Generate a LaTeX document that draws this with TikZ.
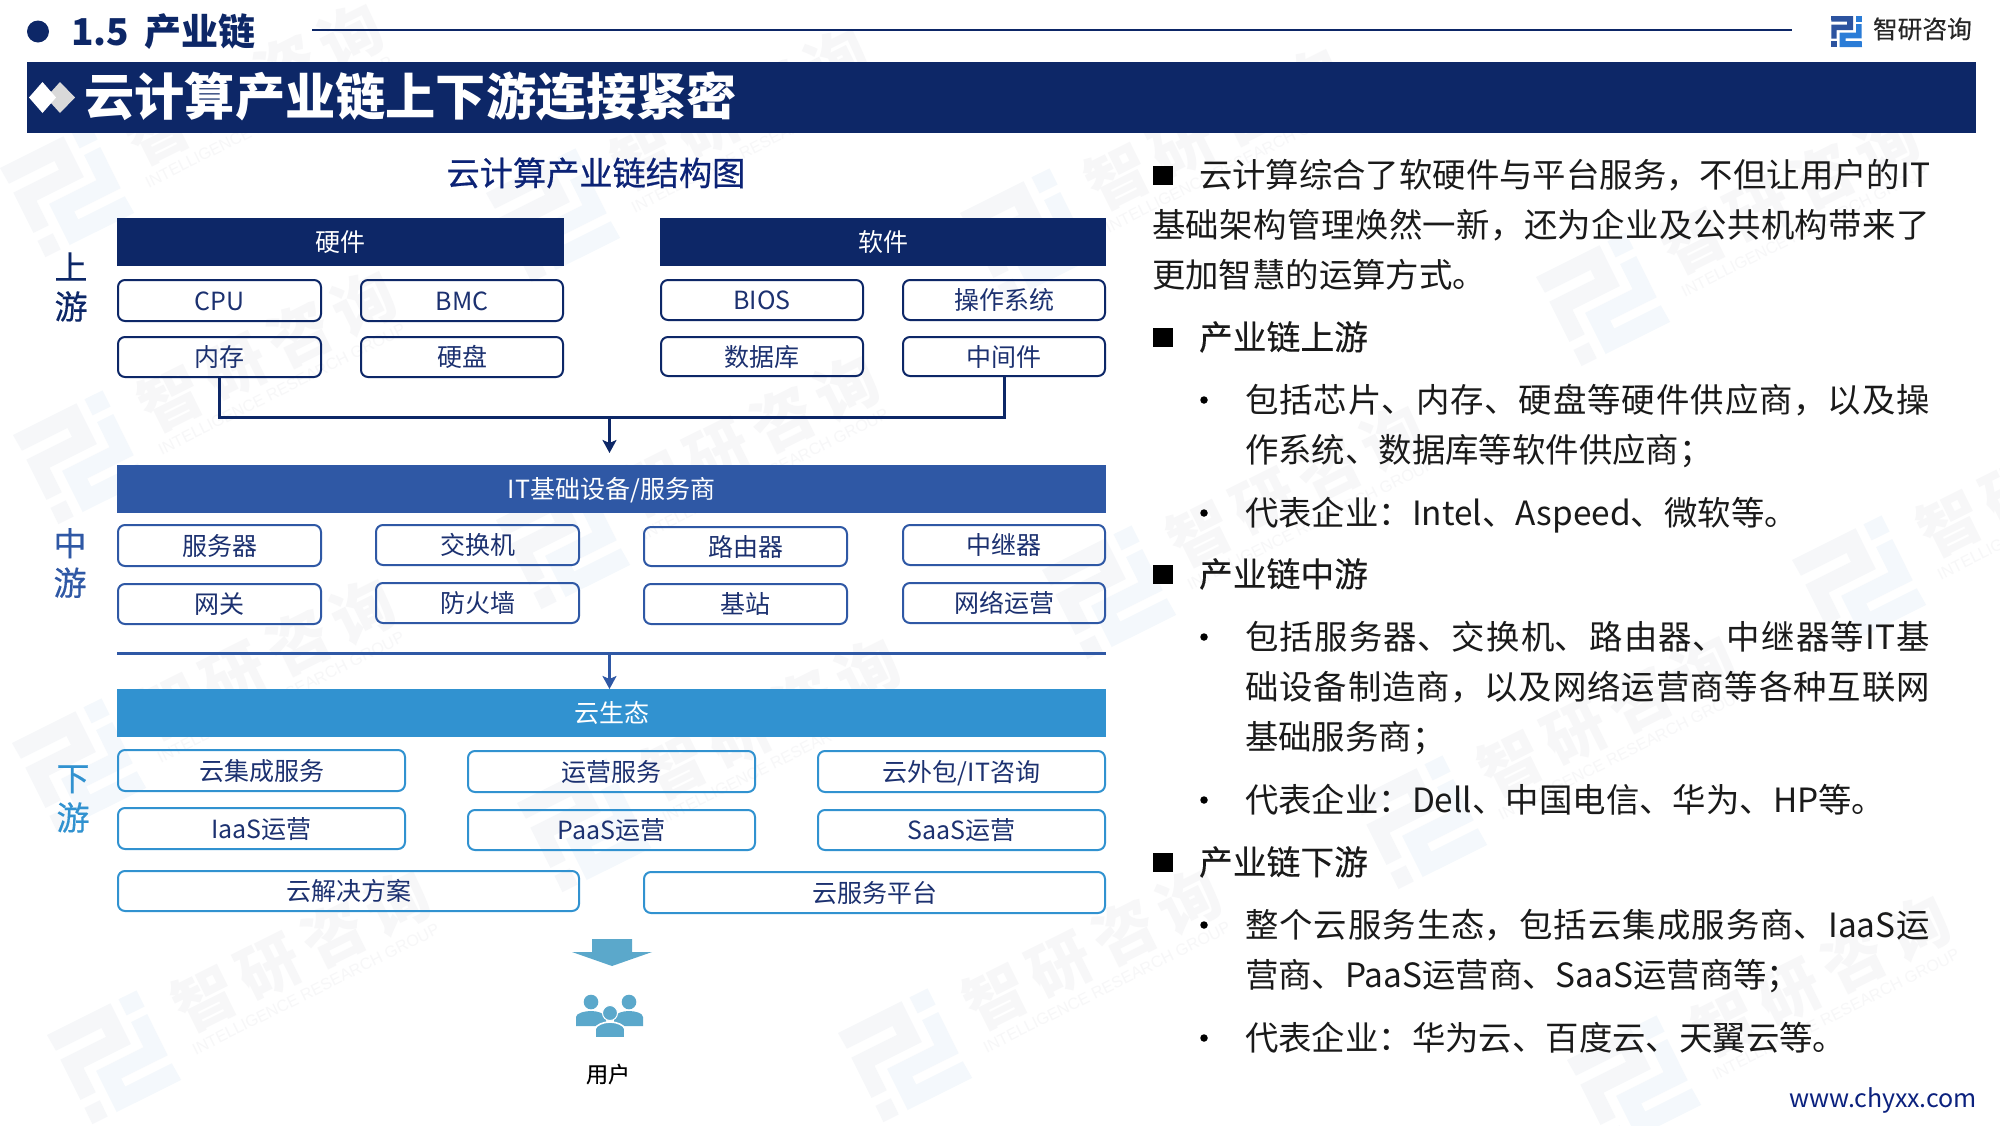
\documentclass[tikz,border=0pt]{standalone}
\usepackage{fontspec}
\usetikzlibrary{arrows.meta}
\setmainfont{Noto Sans CJK SC}
\setsansfont{Noto Sans CJK SC}
\newfontfamily\medf[FakeBold=0.35]{Noto Sans CJK SC}
\newfontfamily\subf[FakeBold=0.6]{Noto Sans CJK SC}
\newfontfamily\wmf[LetterSpace=16]{Noto Sans CJK SC}
\newfontfamily\enf{Liberation Sans}
\definecolor{navy}{HTML}{0D2767}
\definecolor{midb}{HTML}{2F58A5}
\definecolor{lowb}{HTML}{3192D0}
\definecolor{boxtxt}{HTML}{1C3170}
\definecolor{body}{HTML}{1A1A1A}
\definecolor{iconb}{HTML}{5BA8CB}
\definecolor{wmg}{HTML}{F6F7F9}
\definecolor{wmb}{HTML}{F4F8FC}
\definecolor{wmt}{HTML}{F7F7F8}
\tikzset{
  x=1pt,y=-1pt,
  every node/.style={inner sep=0pt,outer sep=0pt},
  f25/.style={font=\fontsize{25}{30}\selectfont,text height=22pt,text depth=3pt,align=center},
  upbox/.style={f25,draw=navy,line width=2pt,rounded corners=7pt,text=boxtxt},
  midbox/.style={upbox,draw=midb},
  lowbox/.style={upbox,draw=lowb},
  bar/.style={f25,fill=#1,text=white},
  conn/.style={draw=#1,line width=3pt},
  arr/.style={draw=#1,line width=2.4pt,-{Stealth[length=13pt,width=14pt,inset=3pt]}},
  tierlab/.style={font=\medf\fontsize{33}{39.5}\selectfont,align=center,text=#1},
  bodyline/.style={font=\fontsize{33.4}{50}\selectfont,text=body,text height=29.4pt,text depth=4pt,anchor=west},
  headline/.style={bodyline,font=\medf\fontsize{33.8}{50}\selectfont},
  para/.style={font=\fontsize{33.4}{50}\selectfont,text=body,text width=#1,align=justify,anchor=north west},
  sq/.style={fill=black,minimum width=20pt,minimum height=19pt},
  dot/.style={circle,fill=black,minimum size=7.5pt},
}
\newcommand\bx[7]{\node[#1,minimum width={#5-#3},minimum height={#6-#4}] (#2) at ({(#3+#5)/2},{(#4+#6)/2}) {#7};}
\newcommand\bxl[7]{\node[#1,minimum width={#5-#3-2},minimum height={#6-#4-2}] (#2) at ({(#3+#5)/2},{(#4+#6)/2}) {#7};}
\newcommand\lgmark[2]{%
  \fill[#1] (0,0)--(71,0)--(71,45.5)--(18,45.5)--(18,73)--(1,73)--(1,28)--(52,28)--(52,18)--(1,18)--cycle;
  \fill[#1] (1,82)--(18,82)--(18,100)--(1,100)--cycle;
  \fill[#2] (80,0)--(100,0)--(100,18)--(80,18)--cycle;
  \fill[#2] (81,26)--(99,26)--(99,72)--(47,72)--(47,81)--(99,81)--(100,100)--(28,100)--(28,54)--(81,54)--cycle;
}
\newcommand\wm[3]{\begin{scope}[shift={(#2,#3)},rotate=26.5]
  \lgmark{wmg}{wmb}
  \node[rotate=26.5,font=\wmf\bfseries\fontsize{62}{62}\selectfont,text=wmt] (wmz#1) at (265,38) {智研咨询};
  \node[rotate=26.5,font=\enf\fontsize{16.1}{18}\selectfont,text=wmt] (wme#1) at (261,79) {INTELLIGENCE RESEARCH GROUP};
\end{scope}}
\XeTeXlinebreaklocale "zh"
\XeTeXlinebreakskip=0pt plus 3pt minus 1pt
\begin{document}
\begin{tikzpicture}
\useasboundingbox (0,0) rectangle (2000,1125);
\fill[white] (0,0) rectangle (2000,1125);
% watermark
\begin{scope}
\clip (0,0) rectangle (2000,1125);
\wm{a}{0}{168}\wm{b}{13}{435}\wm{c}{12}{743}\wm{d}{47}{1035}
\wm{e}{486}{193}\wm{f}{496}{520}\wm{g}{517}{803}
\wm{h}{960}{213}\wm{i}{1042}{570}\wm{j}{838}{1033}
\wm{k}{1536}{277}\wm{l}{1353}{800}\wm{m}{1792}{560}\wm{n}{1567}{1060}
\end{scope}
% page header
\node[circle,fill=navy,minimum size=22pt] (hdot) at (38,31.5) {};
\node[anchor=west,font=\bfseries\fontsize{37}{40}\selectfont,text=navy,text height=32.5pt,text depth=4.5pt] (sect) at (71,31) {1.5\hspace{15pt}产业链};
\coordinate (ruleL) at (312,30);
\coordinate (ruleR) at (1792,30);
\draw[navy,line width=2.2pt] (ruleL) -- (ruleR);
\begin{scope}[shift={(1831,16)},scale=0.31]
\lgmark{midb!90!navy}{lowb!85!blue}
\end{scope}
\node[anchor=west,font=\medf\fontsize{24.7}{26}\selectfont,text=black!85] (brand) at (1873,29) {智研咨询};
% title bar
\fill[navy] (27,62) rectangle (1975.5,133);
\fill[black!15] (60,82) -- (75,97.5) -- (60,113) -- (46,97.5) -- cycle;
\fill[white] (42.5,82) -- (56,97.5) -- (42.5,113) -- (29,97.5) -- cycle;
\node[anchor=west,font=\bfseries\fontsize{50.2}{56}\selectfont,text=white,text height=44pt,text depth=6pt] (title) at (84.5,96) {云计算产业链上下游连接紧密};
\node[font=\subf\fontsize{33.2}{36}\selectfont,text=navy!90!blue,text height=29pt,text depth=4pt] (sub) at (596,173) {云计算产业链结构图};
% tier labels
\node[tierlab=navy] (tu) at (71,287) {上\\游};
\node[tierlab=midb] (tm) at (70,563) {中\\游};
\node[tierlab=lowb] (td) at (73,799) {下\\游};
% upstream
\bx{bar=navy}{hw}{117}{218}{564}{266}{硬件}
\bx{bar=navy}{sw}{660}{218}{1106}{266}{软件}
\bxl{upbox}{cpu}{117}{279}{322}{322}{CPU}
\bxl{upbox}{bmc}{360}{279}{564}{322}{BMC}
\bxl{upbox}{mem}{117}{336}{322}{378}{内存}
\bxl{upbox}{disk}{360}{336}{564}{378}{硬盘}
\bxl{upbox}{bios}{660}{279}{864}{321}{BIOS}
\bxl{upbox}{os}{902}{279}{1106}{321}{操作系统}
\bxl{upbox}{db}{660}{336}{864}{377}{数据库}
\bxl{upbox}{mw}{902}{336}{1106}{377}{中间件}
\coordinate (busA) at (609.5,417);
\coordinate (tipA) at (609.5,453);
\draw[conn=navy] (mem.south) |- (busA) -| (mw.south);
\draw[arr=navy] (busA) -- (tipA);
% midstream
\bx{bar=midb}{it}{117}{465}{1106}{513}{IT基础设备/服务商}
\bxl{midbox}{srv}{117}{524}{322}{567}{服务器}
\bxl{midbox}{swt}{375}{524}{580}{566}{交换机}
\bxl{midbox}{rtr}{643}{526}{848}{567}{路由器}
\bxl{midbox}{rpt}{902}{524}{1106}{566}{中继器}
\bxl{midbox}{gw}{117}{583}{322}{625}{网关}
\bxl{midbox}{fw}{375}{582}{580}{624}{防火墙}
\bxl{midbox}{bs}{643}{583}{848}{625}{基站}
\bxl{midbox}{net}{902}{582}{1106}{624}{网络运营}
\coordinate (busBl) at (117,653);
\coordinate (busBr) at (1106,653);
\coordinate (busB) at (609.5,653);
\draw[conn=midb] (busBl) -- (busBr);
% downstream
\bx{bar=lowb}{eco}{117}{689}{1106}{737}{云生态}
\draw[arr=midb] (busB) -- (busB |- eco.north);
\bxl{lowbox}{ci}{117}{749}{406}{792}{云集成服务}
\bxl{lowbox}{ops}{467}{750}{756}{793}{运营服务}
\bxl{lowbox}{out}{817}{750}{1106}{793}{云外包/IT咨询}
\bxl{lowbox}{iaas}{117}{807}{406}{850}{IaaS运营}
\bxl{lowbox}{paas}{467}{809}{756}{851}{PaaS运营}
\bxl{lowbox}{saas}{817}{809}{1106}{851}{SaaS运营}
\bxl{lowbox}{sol}{117}{870}{580}{912}{云解决方案}
\bxl{lowbox}{plat}{643}{871}{1106}{914}{云服务平台}
% arrow + users
\fill[iconb] (592,939) -- (632,939) -- (632,952) -- (652,952) -- (612,966) -- (572,952) -- (592,952) -- cycle;
\fill[iconb] (576,1026) -- (576,1017) .. controls (576,1013) and (585,1011) .. (591,1011) .. controls (597,1011) and (604,1013) .. (606,1017) -- (606,1026) -- cycle;
\fill[iconb] (643,1026) -- (643,1017) .. controls (643,1013) and (635,1011) .. (629,1011) .. controls (623,1011) and (616,1013) .. (614,1017) -- (614,1026) -- cycle;
\node[circle,fill=iconb,minimum size=14.6pt] (h1) at (591,1002) {};
\node[circle,fill=iconb,minimum size=14.6pt] (h2) at (629,1002) {};
\fill[iconb,draw=white,line width=1.6pt] (595,1037.8) -- (595,1029) .. controls (596,1025) and (603,1022) .. (610,1022) .. controls (617,1022) and (624,1025) .. (625,1029) -- (625,1037.8) -- cycle;
\node[circle,fill=iconb,draw=white,line width=1pt,minimum size=15pt] (h3) at (610,1013) {};
\node[font=\medf\fontsize{22}{24}\selectfont,text=black] (user) at (608,1074) {用户};
% right text
\node[sq] (s1) at (1163,175) {};
\node[para=778pt] (p1) at (1152,157.8) {\rule{0pt}{30pt}\hspace*{47pt}云计算综合了软硬件与平台服务，不但让用户的IT\linebreak 基础架构管理焕然一新，还为企业及公共机构带来了\linebreak 更加智慧的运算方式。};
\node[sq] (s2) at (1163,337) {};
\node[headline] (h2t) at (1199,337) {产业链上游};
\node[dot] (d1) at (1204,400) {};
\node[para=685pt] (p2) at (1245,382.8) {\rule{0pt}{30pt}包括芯片、内存、硬盘等硬件供应商，以及操\linebreak 作系统、数据库等软件供应商；};
\node[dot] (d2) at (1204,513) {};
\node[bodyline] (p3) at (1245,513) {代表企业：Intel、Aspeed、微软等。};
\node[sq] (s3) at (1163,574) {};
\node[headline] (h3t) at (1199,574) {产业链中游};
\node[dot] (d3) at (1204,637) {};
\node[para=685pt] (p4) at (1245,619.8) {\rule{0pt}{30pt}包括服务器、交换机、路由器、中继器等IT基\linebreak 础设备制造商，以及网络运营商等各种互联网\linebreak 基础服务商；};
\node[dot] (d4) at (1204,800) {};
\node[bodyline] (p5) at (1245,800) {代表企业：Dell、中国电信、华为、HP等。};
\node[sq] (s4) at (1163,862) {};
\node[headline] (h4t) at (1199,862) {产业链下游};
\node[dot] (d5) at (1204,925) {};
\node[para=685pt] (p6) at (1245,907.8) {\rule{0pt}{30pt}整个云服务生态，包括云集成服务商、IaaS运\linebreak 营商、PaaS运营商、SaaS运营商等；};
\node[dot] (d6) at (1204,1038) {};
\node[bodyline] (p7) at (1245,1038) {代表企业：华为云、百度云、天翼云等。};
\node[anchor=east,font=\fontsize{25}{30}\selectfont,text=navy!85!blue] (web) at (1977,1100.5) {www.chyxx.com};
\end{tikzpicture}
\end{document}
